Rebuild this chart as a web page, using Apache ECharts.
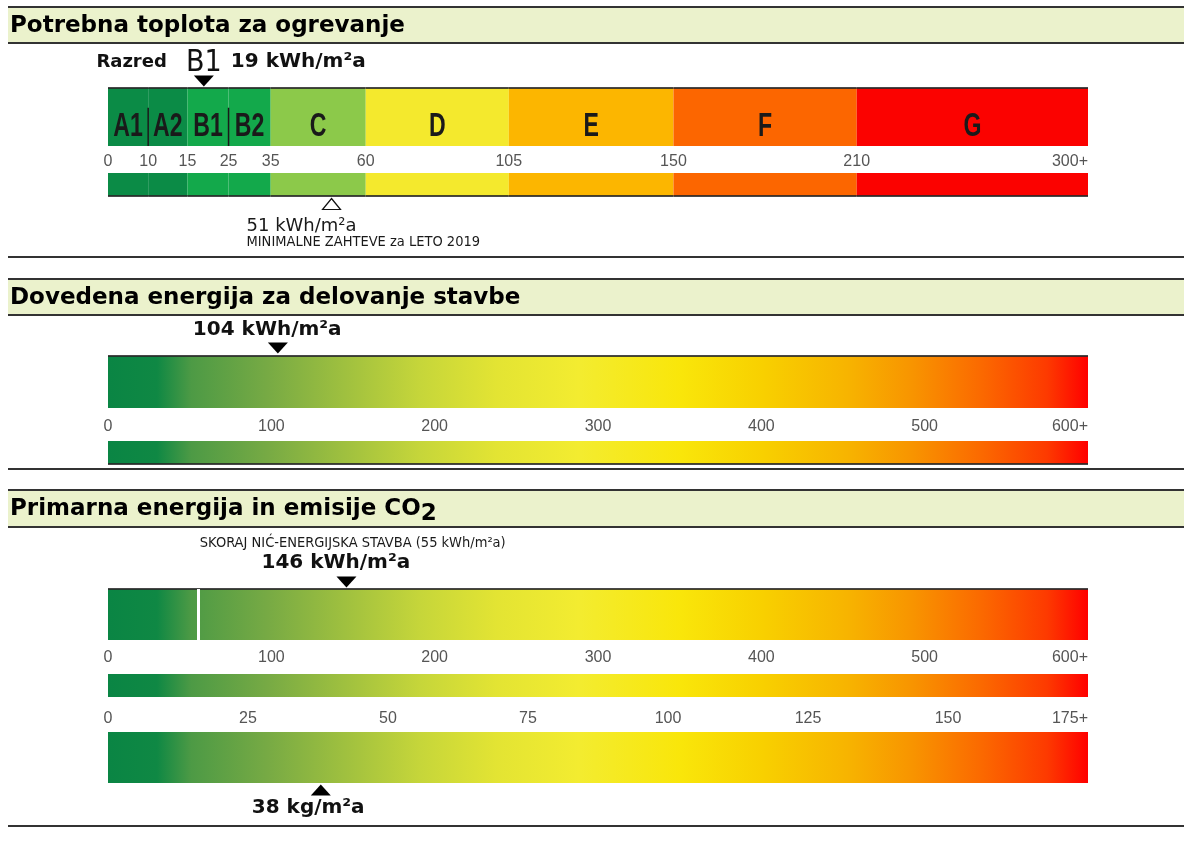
<!DOCTYPE html>
<html>
<head>
<meta charset="utf-8">
<title>Energetska izkaznica</title>
<script src="https://cdn.jsdelivr.net/npm/echarts@6/dist/echarts.min.js"></script>
<style>
  html, body { margin: 0; padding: 0; background: #fff; }
  #chart { width: 1184px; height: 845px; }
</style>
</head>
<body>
<div id="chart"></div>
<script>
var classNames = ['A1', 'A2', 'B1', 'B2', 'C', 'D', 'E', 'F', 'G'];
var classBounds = [0, 10, 15, 25, 35, 60, 105, 150, 210, 300]; // kWh/m²a
var heatClass = 'B1';
var heatDemand = 19;        // kWh/m²a
var heatLimit2019 = 51;     // minimalne zahteve za leto 2019
var energyTicks = [0, 100, 200, 300, 400, 500, 600];
var deliveredEnergy = 104;  // kWh/m²a
var primaryEnergy = 146;    // kWh/m²a
var nzebLimit = 55;         // skoraj nič-energijska stavba
var co2Ticks = [0, 25, 50, 75, 100, 125, 150, 175];
var co2Emission = 38;       // kg/m²a

// the class scale on the label is uneven: where each class boundary sits along the bar (0..1)
var heatScaleStops = [0, 0.041, 0.081, 0.123, 0.166, 0.263, 0.409, 0.577, 0.764, 1];

function warpHeat(v) {
  for (var i = 0; i < classBounds.length - 1; i++) {
    if (v <= classBounds[i + 1]) {
      var t = (v - classBounds[i]) / (classBounds[i + 1] - classBounds[i]);
      return heatScaleStops[i] + t * (heatScaleStops[i + 1] - heatScaleStops[i]);
    }
  }
  return 1;
}

function heatLabel(val) {
  var best = 0;
  heatScaleStops.forEach(function (s, i) {
    if (Math.abs(s - val) < Math.abs(heatScaleStops[best] - val)) best = i;
  });
  var last = classBounds.length - 1;
  return best === last ? classBounds[best] + '+' : String(classBounds[best]);
}

var classColors = { A: '#0b8b46', B: '#13a94b', C: '#8cc94a', D: '#f4e92d', E: '#fcb600', F: '#fc6600', G: '#fb0200' };

var rampStops = [
  { offset: 0, color: '#0a8544' },
  { offset: 0.05, color: '#0f8844' },
  { offset: 0.085, color: '#4d9a45' },
  { offset: 0.163, color: '#77aa44' },
  { offset: 0.241, color: '#9fc03f' },
  { offset: 0.319, color: '#c6d63a' },
  { offset: 0.397, color: '#e3e433' },
  { offset: 0.48, color: '#f3ec30' },
  { offset: 0.584, color: '#f9e60a' },
  { offset: 0.668, color: '#f8d000' },
  { offset: 0.754, color: '#f7b400' },
  { offset: 0.821, color: '#f89400' },
  { offset: 0.89, color: '#fb6a00' },
  { offset: 0.958, color: '#fd3a00' },
  { offset: 1, color: '#ff0000' }
];

var sansBold = '"DejaVu Sans", Verdana, sans-serif';
var narrow = '"Liberation Sans Narrow", "DejaVu Sans Condensed", "Liberation Sans", sans-serif';
var tickStyle = { color: '#555', fontSize: 16, fontFamily: '"Liberation Sans", Arial, sans-serif' };
var valueStyle = { color: '#111', fontSize: 20, fontWeight: 'bold', fontFamily: sansBold };
var smallStyle = { color: '#1a1a1a', fontSize: 14.5, fontFamily: narrow };
var downTri = 'path://M0,0L20,0L10,11Z';

function edgeRect(rect, edge) {
  var y = edge === 'top' ? rect.y - 1 : rect.y + rect.height - 1;
  return { type: 'rect', shape: { x: rect.x, y: y, width: rect.width, height: 2 }, style: { fill: 'rgba(40,40,40,0.85)' } };
}

function classBar(withText, edge) {
  return function (params, api) {
    var p0 = api.coord([warpHeat(api.value(0)), 1]);
    var p1 = api.coord([warpHeat(api.value(1)), 0]);
    var name = classNames[params.dataIndex];
    var rect = { x: p0[0], y: p0[1], width: p1[0] - p0[0], height: p1[1] - p0[1] };
    var children = [{ type: 'rect', shape: rect, style: { fill: classColors[name[0]] } }];
    if (withText) {
      children.push({
        type: 'text', x: rect.x + rect.width / 2, y: rect.y + rect.height * 0.67, scaleX: 0.7,
        style: { text: name, align: 'center', verticalAlign: 'middle', fill: '#1a1a1a',
          font: 'bold 33px "Liberation Sans", Arial, sans-serif' }
      });
      var prev = classNames[params.dataIndex - 1];
      if (prev && prev[0] === name[0]) {
        children.push({ type: 'line', shape: { x1: rect.x, y1: rect.y + rect.height * 0.34, x2: rect.x, y2: rect.y + rect.height },
          style: { stroke: '#1a1a1a', lineWidth: 1.5 } });
      }
    }
    if (edge) children.push(edgeRect(rect, edge));
    return { type: 'group', children: children };
  };
}

function rampBar(edge) {
  return function (params, api) {
    var p0 = api.coord([api.value(0), 1]);
    var p1 = api.coord([api.value(1), 0]);
    var rect = { x: p0[0], y: p0[1], width: p1[0] - p0[0], height: p1[1] - p0[1] };
    var children = [{ type: 'rect', shape: rect, style: { fill: new echarts.graphic.LinearGradient(0, 0, 1, 0, rampStops) } }];
    if (edge) children.push(edgeRect(rect, edge));
    return { type: 'group', children: children };
  };
}

function textItem(x, y, text, dx, dy, align, style) {
  return {
    value: [x, y], symbolSize: 1, itemStyle: { color: 'rgba(0,0,0,0)', opacity: 1 },
    label: Object.assign({ show: true, position: 'inside', offset: [dx, dy], align: align, formatter: text }, style)
  };
}

var grids = [
  { top: 88, height: 58 },   // heat classes
  { top: 173, height: 23 },  // heat strip
  { top: 356, height: 52 },  // delivered energy
  { top: 441, height: 23 },  // delivered strip
  { top: 589, height: 51 },  // primary energy
  { top: 674, height: 23 },  // primary strip
  { top: 732, height: 51 }   // co2
].map(function (g) { return { left: 108, width: 980, top: g.top, height: g.height }; });

function xAxis(gi, min, max, extra) {
  return Object.assign({
    type: 'value', gridIndex: gi, min: min, max: max,
    axisLine: { show: false }, axisTick: { show: false }, splitLine: { show: false },
    axisLabel: { show: false }
  }, extra || {});
}

var eMin = energyTicks[0], eMax = energyTicks[energyTicks.length - 1];
var cMin = co2Ticks[0], cMax = co2Ticks[co2Ticks.length - 1];
function plusLast(max) { return function (v) { return v === max ? v + '+' : String(v); }; }

var xAxes = [
  xAxis(0, 0, 1, { axisLabel: Object.assign({ show: true, margin: 8, customValues: classBounds.map(warpHeat),
    formatter: heatLabel, alignMaxLabel: 'right' }, tickStyle) }),
  xAxis(1, 0, 1),
  xAxis(2, eMin, eMax, { interval: energyTicks[1] - energyTicks[0], axisLabel: Object.assign({ show: true, margin: 11,
    alignMaxLabel: 'right', formatter: plusLast(eMax) }, tickStyle) }),
  xAxis(3, eMin, eMax),
  xAxis(4, eMin, eMax, { interval: energyTicks[1] - energyTicks[0], axisLabel: Object.assign({ show: true, margin: 10,
    alignMaxLabel: 'right', formatter: plusLast(eMax) }, tickStyle) }),
  xAxis(5, eMin, eMax),
  xAxis(6, cMin, cMax, { position: 'top', interval: co2Ticks[1] - co2Ticks[0], axisLabel: Object.assign({ show: true, margin: 5,
    alignMaxLabel: 'right', formatter: plusLast(cMax) }, tickStyle) })
];

var yAxes = grids.map(function (g, i) { return { type: 'value', gridIndex: i, min: 0, max: 1, show: false }; });

var classData = classNames.map(function (n, i) { return [classBounds[i], classBounds[i + 1]]; });

var markerStyle = { color: '#000', opacity: 1 };

var series = [
  { type: 'custom', xAxisIndex: 0, yAxisIndex: 0, data: classData, renderItem: classBar(true, 'top') },
  { type: 'custom', xAxisIndex: 1, yAxisIndex: 1, data: classData, renderItem: classBar(false, 'bottom') },
  { type: 'custom', xAxisIndex: 2, yAxisIndex: 2, data: [[eMin, eMax]], renderItem: rampBar('top') },
  { type: 'custom', xAxisIndex: 3, yAxisIndex: 3, data: [[eMin, eMax]], renderItem: rampBar('bottom') },
  { type: 'custom', xAxisIndex: 4, yAxisIndex: 4, data: [[eMin, eMax]], renderItem: rampBar('top') },
  { type: 'custom', xAxisIndex: 5, yAxisIndex: 5, data: [[eMin, eMax]], renderItem: rampBar(null) },
  { type: 'custom', xAxisIndex: 6, yAxisIndex: 6, data: [[cMin, cMax]], renderItem: rampBar(null) },

  // heat demand: class and value
  { type: 'scatter', xAxisIndex: 0, yAxisIndex: 0, clip: false, z: 5, itemStyle: { opacity: 1 }, data: [
    { value: [warpHeat(heatDemand), 1], symbol: downTri, symbolSize: [20, 11], symbolOffset: [0, -7], itemStyle: markerStyle },
    textItem(warpHeat(heatDemand), 1, heatClass, 0, -25, 'center', { color: '#111', fontSize: 30, fontFamily: narrow }),
    textItem(warpHeat(heatDemand), 1, 'Razred', -37, -26, 'right', Object.assign({}, valueStyle, { fontSize: 18 })),
    textItem(warpHeat(heatDemand), 1, heatDemand + ' kWh/m²a', 27, -26, 'left', valueStyle)
  ] },
  // minimum requirement 2019
  { type: 'scatter', xAxisIndex: 1, yAxisIndex: 1, clip: false, z: 5, itemStyle: { opacity: 1 }, data: [
    { value: [warpHeat(heatLimit2019), 0], symbol: 'triangle', symbolSize: [18, 11], symbolOffset: [0, 8],
      itemStyle: { color: '#fff', borderColor: '#111', borderWidth: 1.2, opacity: 1 } },
    textItem(warpHeat(heatLimit2019), 0, heatLimit2019 + ' kWh/m²a', -85, 30, 'left',
      { color: '#1a1a1a', fontSize: 18, fontFamily: sansBold }),
    textItem(warpHeat(heatLimit2019), 0, 'MINIMALNE ZAHTEVE za LETO 2019', -85, 46, 'left', smallStyle)
  ] },
  // delivered energy
  { type: 'scatter', xAxisIndex: 2, yAxisIndex: 2, clip: false, z: 5, itemStyle: { opacity: 1 }, data: [
    { value: [deliveredEnergy, 1], symbol: downTri, symbolSize: [20, 11], symbolOffset: [0, -8], itemStyle: markerStyle },
    textItem(deliveredEnergy, 1, deliveredEnergy + ' kWh/m²a', -85, -26, 'left', valueStyle)
  ] },
  // primary energy + nZEB line
  { type: 'scatter', xAxisIndex: 4, yAxisIndex: 4, clip: false, z: 5, itemStyle: { opacity: 1 }, data: [
    { value: [primaryEnergy, 1], symbol: downTri, symbolSize: [20, 11], symbolOffset: [0, -7], itemStyle: markerStyle },
    textItem(primaryEnergy, 1, primaryEnergy + ' kWh/m²a', -85, -26, 'left', valueStyle),
    textItem(nzebLimit, 1, 'SKORAJ NIĆ-ENERGIJSKA STAVBA (' + nzebLimit + ' kWh/m²a)', 2, -46, 'left', smallStyle)
  ],
    markLine: { silent: true, symbol: 'none', label: { show: false },
      lineStyle: { color: '#fff', width: 3, type: 'solid', opacity: 1 }, data: [{ xAxis: nzebLimit }] }
  },
  // co2
  { type: 'scatter', xAxisIndex: 6, yAxisIndex: 6, clip: false, z: 5, itemStyle: { opacity: 1 }, data: [
    { value: [co2Emission, 0], symbol: 'triangle', symbolSize: [20, 11], symbolOffset: [0, 7], itemStyle: markerStyle },
    textItem(co2Emission, 0, co2Emission + ' kg/m²a', -69, 25, 'left', valueStyle)
  ] }
];

// section headers and rules
var sections = [
  { title: 'Potrebna toplota za ogrevanje', top: 7, bottom: 43, end: 257 },
  { title: 'Dovedena energija za delovanje stavbe', top: 279, bottom: 315, end: 469 },
  { title: 'Primarna energija in emisije CO{sub|2}', top: 490, bottom: 527, end: 826 }
];
var titleFont = 'bold 23px "DejaVu Sans", Verdana, sans-serif';
var graphic = [];
sections.forEach(function (s) {
  graphic.push({ type: 'rect', shape: { x: 8, y: s.top, width: 1176, height: s.bottom - s.top }, style: { fill: '#ebf2cc' } });
  [s.top, s.bottom, s.end].forEach(function (y) {
    graphic.push({ type: 'line', shape: { x1: 8, y1: y, x2: 1184, y2: y }, style: { stroke: '#333', lineWidth: 2.2 } });
  });
  graphic.push({ type: 'text', style: { x: 10, y: (s.top + s.bottom) / 2 + 1, text: s.title, verticalAlign: 'middle',
    font: titleFont, fill: '#000', rich: { sub: { font: titleFont, fill: '#000', padding: [9, 0, 0, 0] } } } });
});

var chart = echarts.init(document.getElementById('chart'));
chart.setOption({
  animation: false,
  backgroundColor: '#fff',
  grid: grids,
  xAxis: xAxes,
  yAxis: yAxes,
  series: series,
  graphic: graphic
});
</script>
</body>
</html>
